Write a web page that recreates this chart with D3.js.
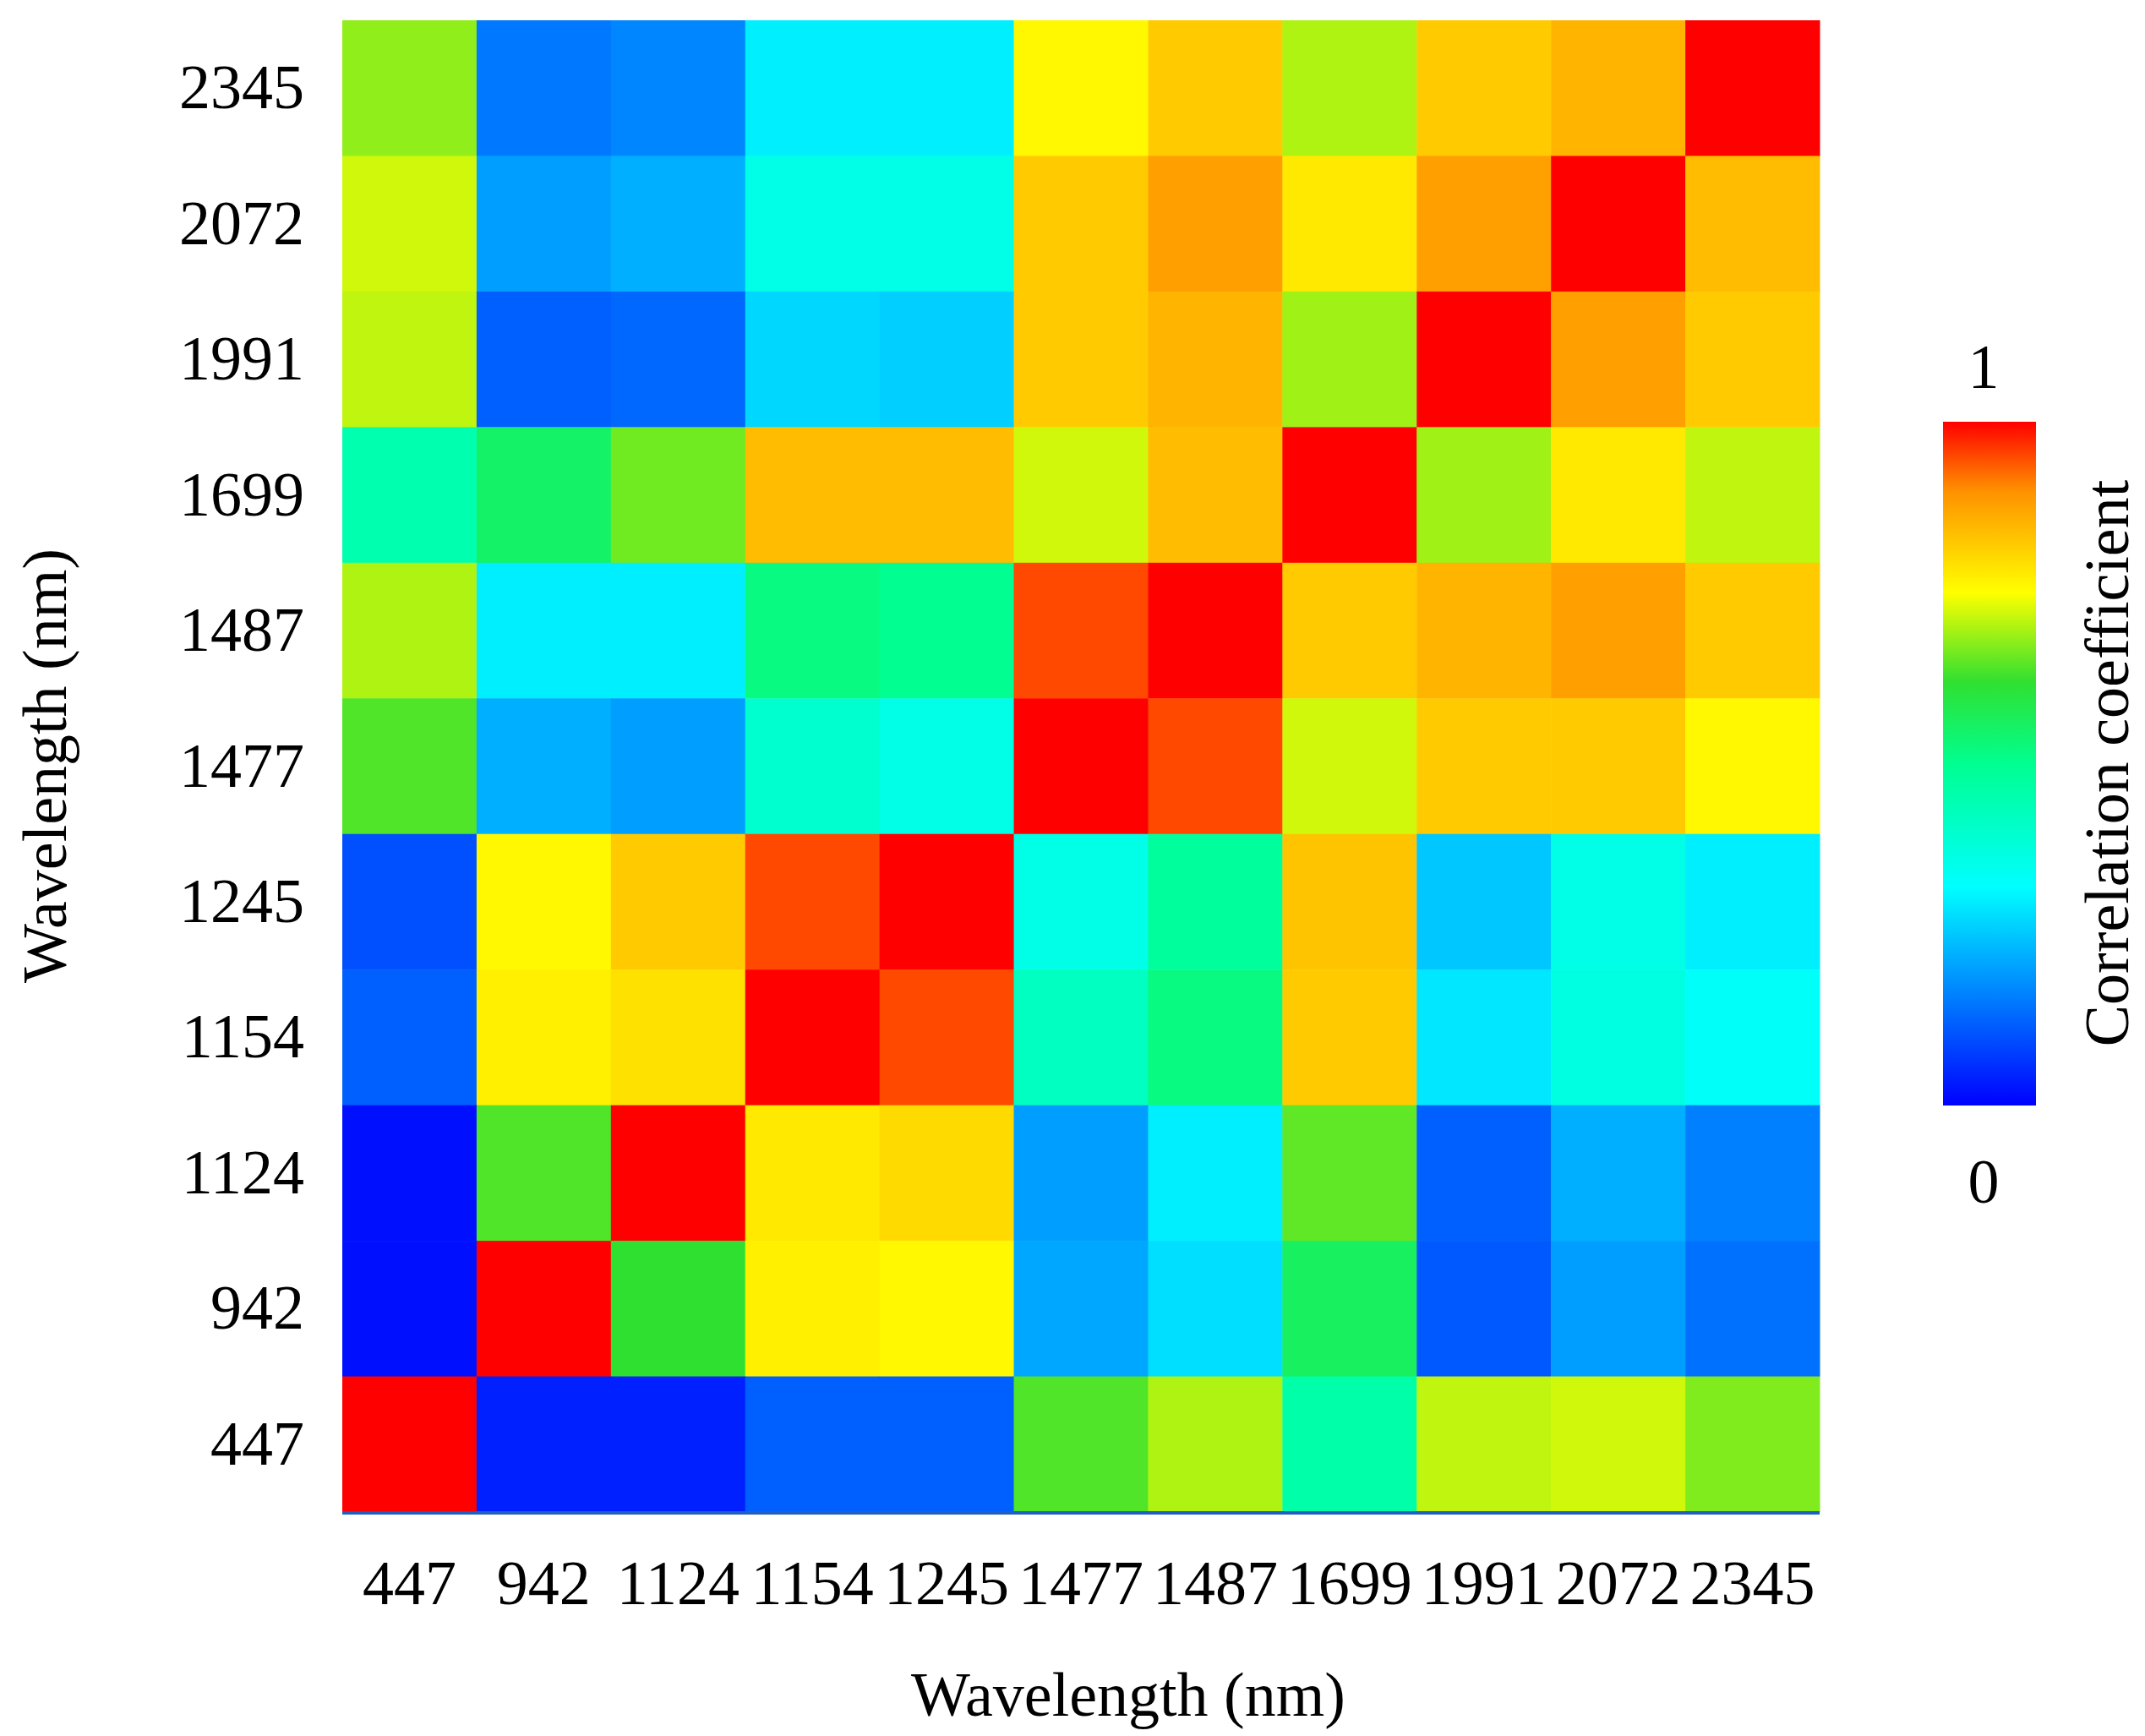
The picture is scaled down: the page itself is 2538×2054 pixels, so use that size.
<!DOCTYPE html>
<html><head><meta charset="utf-8">
<script src="https://cdn.jsdelivr.net/npm/d3@7"></script>
<style>body{margin:0;background:#fff}text{font-family:"Liberation Serif","Times New Roman",serif;fill:#000}</style>
</head><body><svg id="c" width="2538" height="2054"></svg>
<script>
const wavelengths = ["447","942","1124","1154","1245","1477","1487","1699","1991","2072","2345"];
// rows listed top (2345) to bottom (447)
const rowLabels = ["2345","2072","1991","1699","1487","1477","1245","1154","1124","942","447"];
const values = [
 [0.68,0.15,0.17,0.30,0.30,0.76,0.82,0.70,0.82,0.85,1.00],
 [0.72,0.20,0.22,0.36,0.36,0.82,0.88,0.78,0.88,1.00,0.84],
 [0.71,0.12,0.13,0.27,0.26,0.82,0.85,0.69,1.00,0.88,0.82],
 [0.45,0.55,0.66,0.84,0.84,0.72,0.84,1.00,0.69,0.78,0.71],
 [0.70,0.30,0.30,0.52,0.50,0.95,1.00,0.82,0.85,0.88,0.82],
 [0.64,0.22,0.20,0.40,0.36,1.00,0.95,0.72,0.82,0.82,0.76],
 [0.10,0.76,0.82,0.95,1.00,0.36,0.48,0.83,0.25,0.36,0.30],
 [0.12,0.77,0.79,1.00,0.95,0.42,0.52,0.82,0.29,0.37,0.33],
 [0.02,0.64,1.00,0.78,0.80,0.20,0.30,0.65,0.12,0.22,0.16],
 [0.02,1.00,0.62,0.77,0.76,0.21,0.28,0.56,0.11,0.20,0.14],
 [1.00,0.04,0.04,0.12,0.12,0.64,0.70,0.46,0.71,0.72,0.67]
];
const stops = [0,0.32,0.5,0.62,0.75,0.9,1];
const stopCols = ["#0000ff","#00ffff","#00ff90","#30e030","#ffff00","#ff9000","#ff0000"];
const color = d3.scaleLinear().domain(stops).range(stopCols).clamp(true);

const svg = d3.select("#c");
const x = d3.scaleBand().domain(wavelengths).range([405,2153]);
const y = d3.scaleBand().domain(rowLabels).range([24,1789]);
const cells=[];
rowLabels.forEach((r,i)=>wavelengths.forEach((c,j)=>cells.push({r,c,v:values[i][j]})));
svg.selectAll("rect.cell").data(cells).join("rect").attr("class","cell")
 .attr("x",d=>x(d.c)).attr("y",d=>y(d.r)).attr("width",x.bandwidth()+0.5).attr("height",y.bandwidth()+0.5)
 .attr("fill",d=>color(d.v));
svg.append("line").attr("x1",405).attr("x2",2153).attr("y1",1790).attr("y2",1790).attr("stroke","#2060c0").attr("stroke-width",4);

const fs=74;
svg.selectAll("text.xt").data(wavelengths).join("text").attr("class","xt")
 .attr("x",d=>x(d)+x.bandwidth()/2).attr("y",1898).attr("text-anchor","middle").attr("font-size",fs).text(d=>d);
svg.selectAll("text.yt").data(rowLabels).join("text").attr("class","yt")
 .attr("x",360).attr("y",d=>y(d)+y.bandwidth()/2+24).attr("text-anchor","end").attr("font-size",fs).text(d=>d);
svg.append("text").attr("x",1335).attr("y",2030).attr("text-anchor","middle").attr("font-size",fs).text("Wavelength (nm)");
svg.append("text").attr("transform","translate(78,906) rotate(-90)").attr("text-anchor","middle").attr("font-size",fs).text("Wavelength (nm)");

// colorbar
const defs=svg.append("defs");
const g=defs.append("linearGradient").attr("id","cb").attr("x1",0).attr("x2",0).attr("y1",1).attr("y2",0);
g.selectAll("stop").data(stops).join("stop").attr("offset",d=>d).attr("stop-color",(d,i)=>stopCols[i]);
const cbY=d3.scaleLinear().domain([0,1]).range([1308,499]);
svg.append("rect").attr("x",2299).attr("y",cbY(1)).attr("width",110).attr("height",cbY(0)-cbY(1)).attr("fill","url(#cb)");
svg.append("text").attr("x",2347).attr("y",cbY(1)-40).attr("text-anchor","middle").attr("font-size",fs).text("1");
svg.append("text").attr("x",2347).attr("y",cbY(0)+115).attr("text-anchor","middle").attr("font-size",fs).text("0");
svg.append("text").attr("transform","translate(2518,903) rotate(-90)").attr("text-anchor","middle").attr("font-size",fs).text("Correlation coefficient");
</script></body></html>
